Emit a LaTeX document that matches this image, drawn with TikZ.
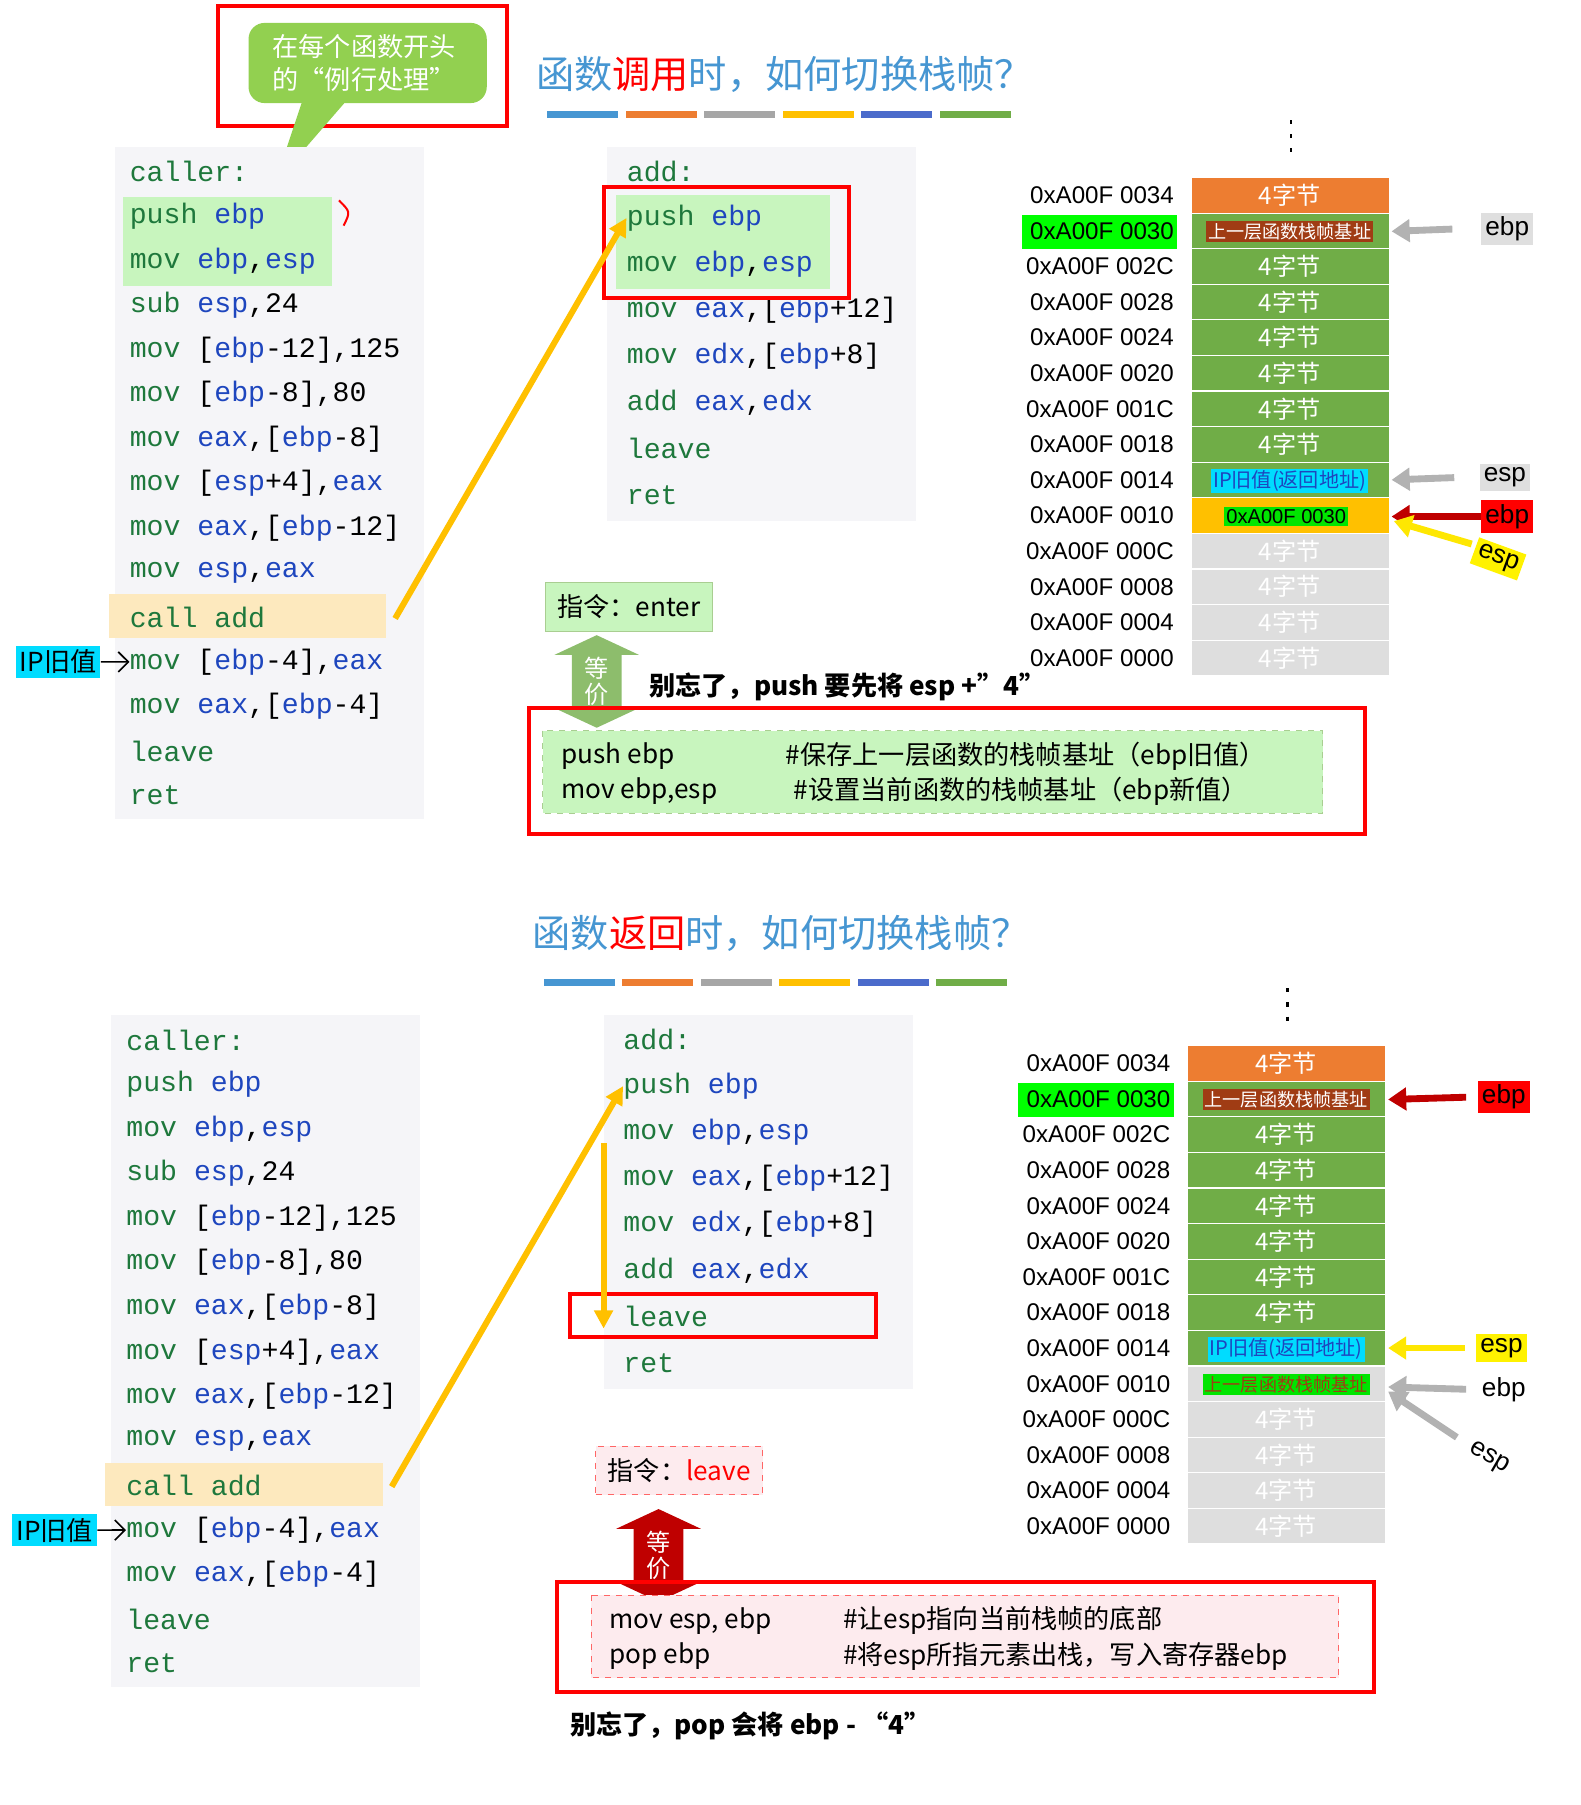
\documentclass[tikz,border=0pt]{standalone}
\usepackage{fontspec}
\setmainfont{Noto Sans CJK SC}
\newfontfamily\codefont{Liberation Mono}
\newfontfamily\addrfont{Liberation Sans}
\usetikzlibrary{arrows.meta,shapes.arrows}
\definecolor{mnem}{RGB}{30,120,60}
\definecolor{regblue}{RGB}{30,70,190}
\definecolor{titleblue}{RGB}{70,150,210}
\definecolor{panelbg}{RGB}{245,245,248}
\definecolor{stkorange}{RGB}{237,125,49}
\definecolor{stkgreen}{RGB}{112,173,71}
\definecolor{stkyellow}{RGB}{255,192,0}
\definecolor{stkgray}{RGB}{222,222,222}
\definecolor{hlgreen}{RGB}{200,245,190}
\definecolor{hlorange}{RGB}{253,233,190}
\definecolor{bubble}{RGB}{146,208,80}
\definecolor{brownlbl}{RGB}{160,60,20}
\definecolor{cyanlbl}{RGB}{0,220,255}
\definecolor{pinkbg}{RGB}{253,235,238}
\newcommand\rg[1]{\textcolor{regblue}{#1}}
\tikzset{
  code/.style = {anchor=west, inner sep=0pt, font=\codefont\fontsize{14}{16}\selectfont},
  addr/.style = {anchor=east, inner sep=1pt, font=\addrfont\fontsize{12}{14}\selectfont},
  cell/.style = {draw=white, line width=0.6pt},
  celltext/.style = {text=white, font=\fontsize{12}{14}\selectfont},
  redbox/.style = {draw=red, line width=2pt},
  ptr/.style = {line width=3.4pt, -{Triangle[length=9pt,width=11pt]}},
  ptrlbl/.style = {inner sep=2pt, font=\addrfont\fontsize{13}{15}\selectfont},
  title/.style = {font=\fontsize{19}{22}\selectfont, text=titleblue},
  equiv/.style = {double arrow, shape border rotate=90, minimum height=46pt, minimum width=42pt,
    double arrow tip angle=130, double arrow head extend=5pt, inner sep=1pt, align=center,
    text=white, font=\fontsize{12}{13}\selectfont},
}
% caller listing, #1 = node prefix, #2 = extra highlight
\newcommand\callercode[2]{%
  \fill[panelbg] (100,128) rectangle (370,715);
  \fill[hlorange] (95,519) rectangle (337,557);
  #2
  \foreach \i/\m/\o in {0/caller:/{}, 1/push/{\rg{ebp}}, 2/mov/{\rg{ebp},\rg{esp}},
    3/sub/{\rg{esp},24}, 4/mov/{[\rg{ebp}-12],125}, 5/mov/{[\rg{ebp}-8],80},
    6/mov/{\rg{eax},[\rg{ebp}-8]}, 7/mov/{[\rg{esp}+4],\rg{eax}}, 8/mov/{\rg{eax},[\rg{ebp}-12]},
    9/mov/{\rg{esp},\rg{eax}}, 10/call/{\textcolor{mnem}{add}}, 11/mov/{[\rg{ebp}-4],\rg{eax}},
    12/mov/{\rg{eax},[\rg{ebp}-4]}, 13/leave/{}, 14/ret/{}}
    \node[code] (#1\i) at (113,150+38.9*\i) {\textcolor{mnem}{\m} \o};
  \coordinate (#1out) at (345,540);
  \node[fill=cyanlbl, inner sep=2pt, anchor=east, font=\fontsize{13}{15}\selectfont] (#1ip) at (88,578) {IP旧值};
  \draw[-{Straight Barb[length=5pt]}, line width=0.8pt] (#1ip) -- (#111.west);
}
% callee listing
\newcommand\addcode[2]{%
  \fill[panelbg] (530,128) rectangle (800,455);
  #2
  \foreach \i/\m/\o in {0/add:/{}, 1/push/{\rg{ebp}}, 2/mov/{\rg{ebp},\rg{esp}},
    3/mov/{\rg{eax},[\rg{ebp}+12]}, 4/mov/{\rg{edx},[\rg{ebp}+8]}, 5/add/{\rg{eax},\rg{edx}},
    6/leave/{}, 7/ret/{}}
    \node[code] (#1\i) at (547,150+40.3*\i) {\textcolor{mnem}{\m} \o};
}
% stack frame, #1 = prefix, #2 = colour of row 9
\newcommand\stackcells[2]{%
  \fill[green] (892,188) rectangle (1028,217);
  \foreach \a [count=\i from 0] in {0034,0030,002C,0028,0024,0020,001C,0018,0014,0010,000C,0008,0004,0000}{
    \pgfmathsetmacro\yt{155+31.07*\i}
    \ifnum\i=0 \def\cc{stkorange}\else\ifnum\i<9 \def\cc{stkgreen}\else\ifnum\i=9 \def\cc{#2}\else\def\cc{stkgray}\fi\fi\fi
    \fill[\cc,cell] (1040,\yt) rectangle (1213,\yt+31.07);
    \node[addr] (#1a\i) at (1027,\yt+15.5) {0xA00F \a};
    \ifnum\i=1 \else\ifnum\i=8 \else\ifnum\i=9 \else
      \node[celltext] (#1c\i) at (1126,\yt+15.5) {4字节};\fi\fi\fi
  }
  \node[fill=brownlbl, text=white, inner sep=1pt, font=\fontsize{9}{10}\selectfont] (#1base) at (1126,202) {上一层函数栈帧基址};
  \node[fill=cyanlbl, text=regblue, inner sep=1pt, font=\fontsize{10}{11}\selectfont] (#1ret) at (1126,420) {IP旧值(返回地址)};
  \draw[line width=1.2pt, dash pattern=on 2pt off 5pt] (1127,105) -- (1127,140);
}
\begin{document}
\begin{tikzpicture}[x=0.02cm, y=-0.02cm]
\useasboundingbox (0,0) rectangle (1380,1576);
\fill[white] (0,0) rectangle (1380,1576);

% ===== top: call =====
\draw[redbox] (190,5) rectangle (443,110);
\fill[bubble, rounded corners=8pt] (217,20) rectangle (425,90);
\fill[bubble] (265,85) -- (240,160) -- (305,85) -- cycle;
\node[text=white, align=left, font=\fontsize{13}{16}\selectfont] (tip) at (318,55) {在每个函数开头\\的“例行处理”};
\node[title] (t1) at (685,65) {函数\textcolor{red}{调用}时，如何切换栈帧？};
\foreach \c [count=\k from 0] in {titleblue,stkorange,gray!70,stkyellow,regblue!80,stkgreen}
  \fill[\c] (478+68.5*\k,97) rectangle (540+68.5*\k,103);

\callercode{c}{\fill[hlgreen] (107,172) rectangle (290,250);}
\draw[red, line width=1pt] (296,175) .. controls (306,185) .. (300,197);
\addcode{a}{\fill[hlgreen] (538,170) rectangle (725,252);}
\draw[redbox] (527,163) rectangle (741,260);
\draw[stkyellow, line width=3pt, -{Triangle[length=9pt,width=9pt]}] (cout) -- (a1.west);

\node[fill=hlgreen, draw=stkgreen!60, inner sep=6pt, font=\fontsize{13}{15}\selectfont] (enter) at (549,530) {指令：enter};
\node[equiv, fill=stkgreen!80] (eq1) at (521,595) {等\\价};
\node[font=\bfseries\fontsize{13}{15}\selectfont] (note1) at (740,600) {别忘了，push 要先将 esp +"4"};
\draw[redbox] (462,618) rectangle (1192,728);
\fill[hlgreen, draw=stkgreen!60, dashed] (474,638) rectangle (1155,710);
\node[anchor=west, font=\fontsize{13}{15}\selectfont] (e1) at (484,660) {push ebp};
\node[anchor=west, font=\fontsize{13}{15}\selectfont] (e2) at (484,691) {mov ebp,esp};
\node[anchor=west, font=\fontsize{13}{15}\selectfont] (e3) at (680,660) {\#保存上一层函数的栈帧基址（ebp旧值）};
\node[anchor=west, font=\fontsize{13}{15}\selectfont] (e4) at (687,691) {\#设置当前函数的栈帧基址（ebp新值）};

\stackcells{s}{stkyellow}
\node[fill=green!90!black, inner sep=1pt, font=\addrfont\fontsize{10}{11}\selectfont] (sold) at (1123,451) {0xA00F 0030};
\node[ptrlbl, fill=gray!25] (pebp) at (1316,200) {ebp};
\draw[ptr, gray!60] (pebp.west) ++(-25,0) -- (1215,202);
\node[ptrlbl, fill=gray!25] (pesp) at (1314,417) {esp};
\draw[ptr, gray!60] (pesp.west) ++(-22,0) -- (1215,419);
\node[ptrlbl, fill=red] (pebp2) at (1316,451) {ebp};
\draw[ptr, red!75!black] (pebp2.west) -- (1215,451);
\node[ptrlbl, fill=yellow, rotate=-20] (pesp2) at (1308,488) {esp};
\draw[ptr, yellow!90!orange] (1285,475) -- (1217,455);

% ===== bottom: return =====
\begin{scope}[shift={(-3,758)}]
\node[title] (t2) at (685,57) {函数\textcolor{red}{返回}时，如何切换栈帧？};
\foreach \c [count=\k from 0] in {titleblue,stkorange,gray!70,stkyellow,regblue!80,stkgreen}
  \fill[\c] (478+68.5*\k,97) rectangle (540+68.5*\k,103);
\callercode{d}{}
\addcode{b}{}
\draw[redbox] (501,372) rectangle (768,409);
\draw[stkyellow, line width=3pt, -{Triangle[length=9pt,width=9pt]}] (dout) -- (b1.west);
\draw[stkyellow, line width=3pt, -{Triangle[length=9pt,width=9pt]}] (530,240) -- (530,402);

\node[fill=pinkbg, draw=red!60, dashed, inner sep=6pt, font=\fontsize{13}{15}\selectfont] (leave) at (596,526) {指令：\textcolor{red}{leave}};
\node[equiv, fill=red!75!black] (eq2) at (578,600) {等\\价};
\draw[redbox] (489,623) rectangle (1203,719);
\fill[pinkbg, draw=red!60, dashed] (519,635) rectangle (1172,707);
\node[anchor=west, font=\fontsize{13}{15}\selectfont] (l1) at (529,657) {mov esp, ebp};
\node[anchor=west, font=\fontsize{13}{15}\selectfont] (l2) at (529,688) {pop ebp};
\node[anchor=west, font=\fontsize{13}{15}\selectfont] (l3) at (733,657) {\#让esp指向当前栈帧的底部};
\node[anchor=west, font=\fontsize{13}{15}\selectfont] (l4) at (733,688) {\#将esp所指元素出栈，写入寄存器ebp};
\node[font=\bfseries\fontsize{13}{15}\selectfont] (note2) at (658,749) {别忘了，pop 会将 ebp - “4”};

\stackcells{u}{stkgray}
\node[fill=green!90!black, text=brownlbl, inner sep=1pt, font=\fontsize{9}{10}\selectfont] (uold) at (1126,451) {上一层函数栈帧基址};
\node[ptrlbl, fill=red] (qebp) at (1316,200) {ebp};
\draw[ptr, red!75!black] (qebp.west) ++(-10,0) -- (1215,202);
\node[ptrlbl, fill=yellow] (qesp) at (1314,419) {esp};
\draw[ptr, yellow!90!orange] (qesp.west) ++(-10,0) -- (1215,419);
\node[ptrlbl, fill=white] (qebp2) at (1316,455) {ebp};
\draw[ptr, gray!60] (qebp2.west) ++(-10,0) -- (1215,453);
\node[ptrlbl, rotate=-30] (qesp2) at (1303,515) {esp};
\draw[ptr, gray!60] (1275,497) -- (1215,457);
\end{scope}
\end{tikzpicture}
\end{document}
